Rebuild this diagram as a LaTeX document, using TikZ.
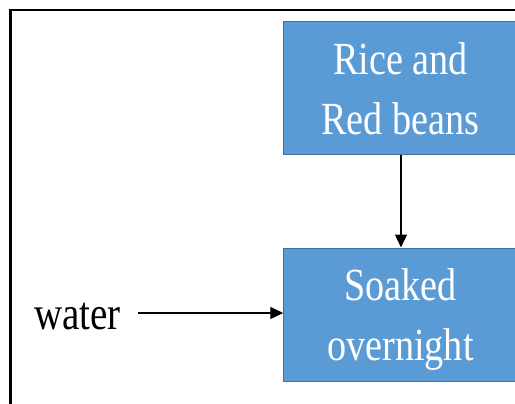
\documentclass[tikz,border=0pt]{standalone}
\usepackage{fontspec}
\setmainfont{Liberation Serif}
\newfontfamily\condfont[FakeStretch=0.83]{Liberation Serif}
\usetikzlibrary{arrows.meta}
\definecolor{boxblue}{HTML}{5B9BD5}
\definecolor{boxedge}{HTML}{41719C}
\begin{document}
\begin{tikzpicture}[x=1pt,y=-1pt,
  stepbox/.style={draw=boxedge, line width=1pt, fill=boxblue, text=white,
    minimum width=233.5pt, minimum height=133pt, align=center, inner sep=0pt,
    font=\condfont\fontsize{46}{60}\selectfont},
  label/.style={font=\condfont\fontsize{47}{59}\selectfont, inner sep=0pt},
  conn/.style={line width=1.4pt, -{Triangle[length=13pt,width=12pt]}}]
\useasboundingbox (0,0) rectangle (515,404);
\fill[white] (0,0) rectangle (515,404);
\draw[line width=2.5pt] (10.5,404) -- (10.5,10) -- (515,10);
\node[stepbox] (rice) at (400.5,88.5) {Rice and\\Red beans};
\node[stepbox] (soak) at (400.5,314.5) {Soaked\\\smash{overnight}};
\node[label, anchor=base] (water) at (77.5,329) {water};
\coordinate (wstart) at (138,313);
\draw[conn] (rice.south -| 401,0) -- (soak.north -| 401,0);
\draw[conn] (wstart) -- (soak.west |- wstart);
\end{tikzpicture}
\end{document}
